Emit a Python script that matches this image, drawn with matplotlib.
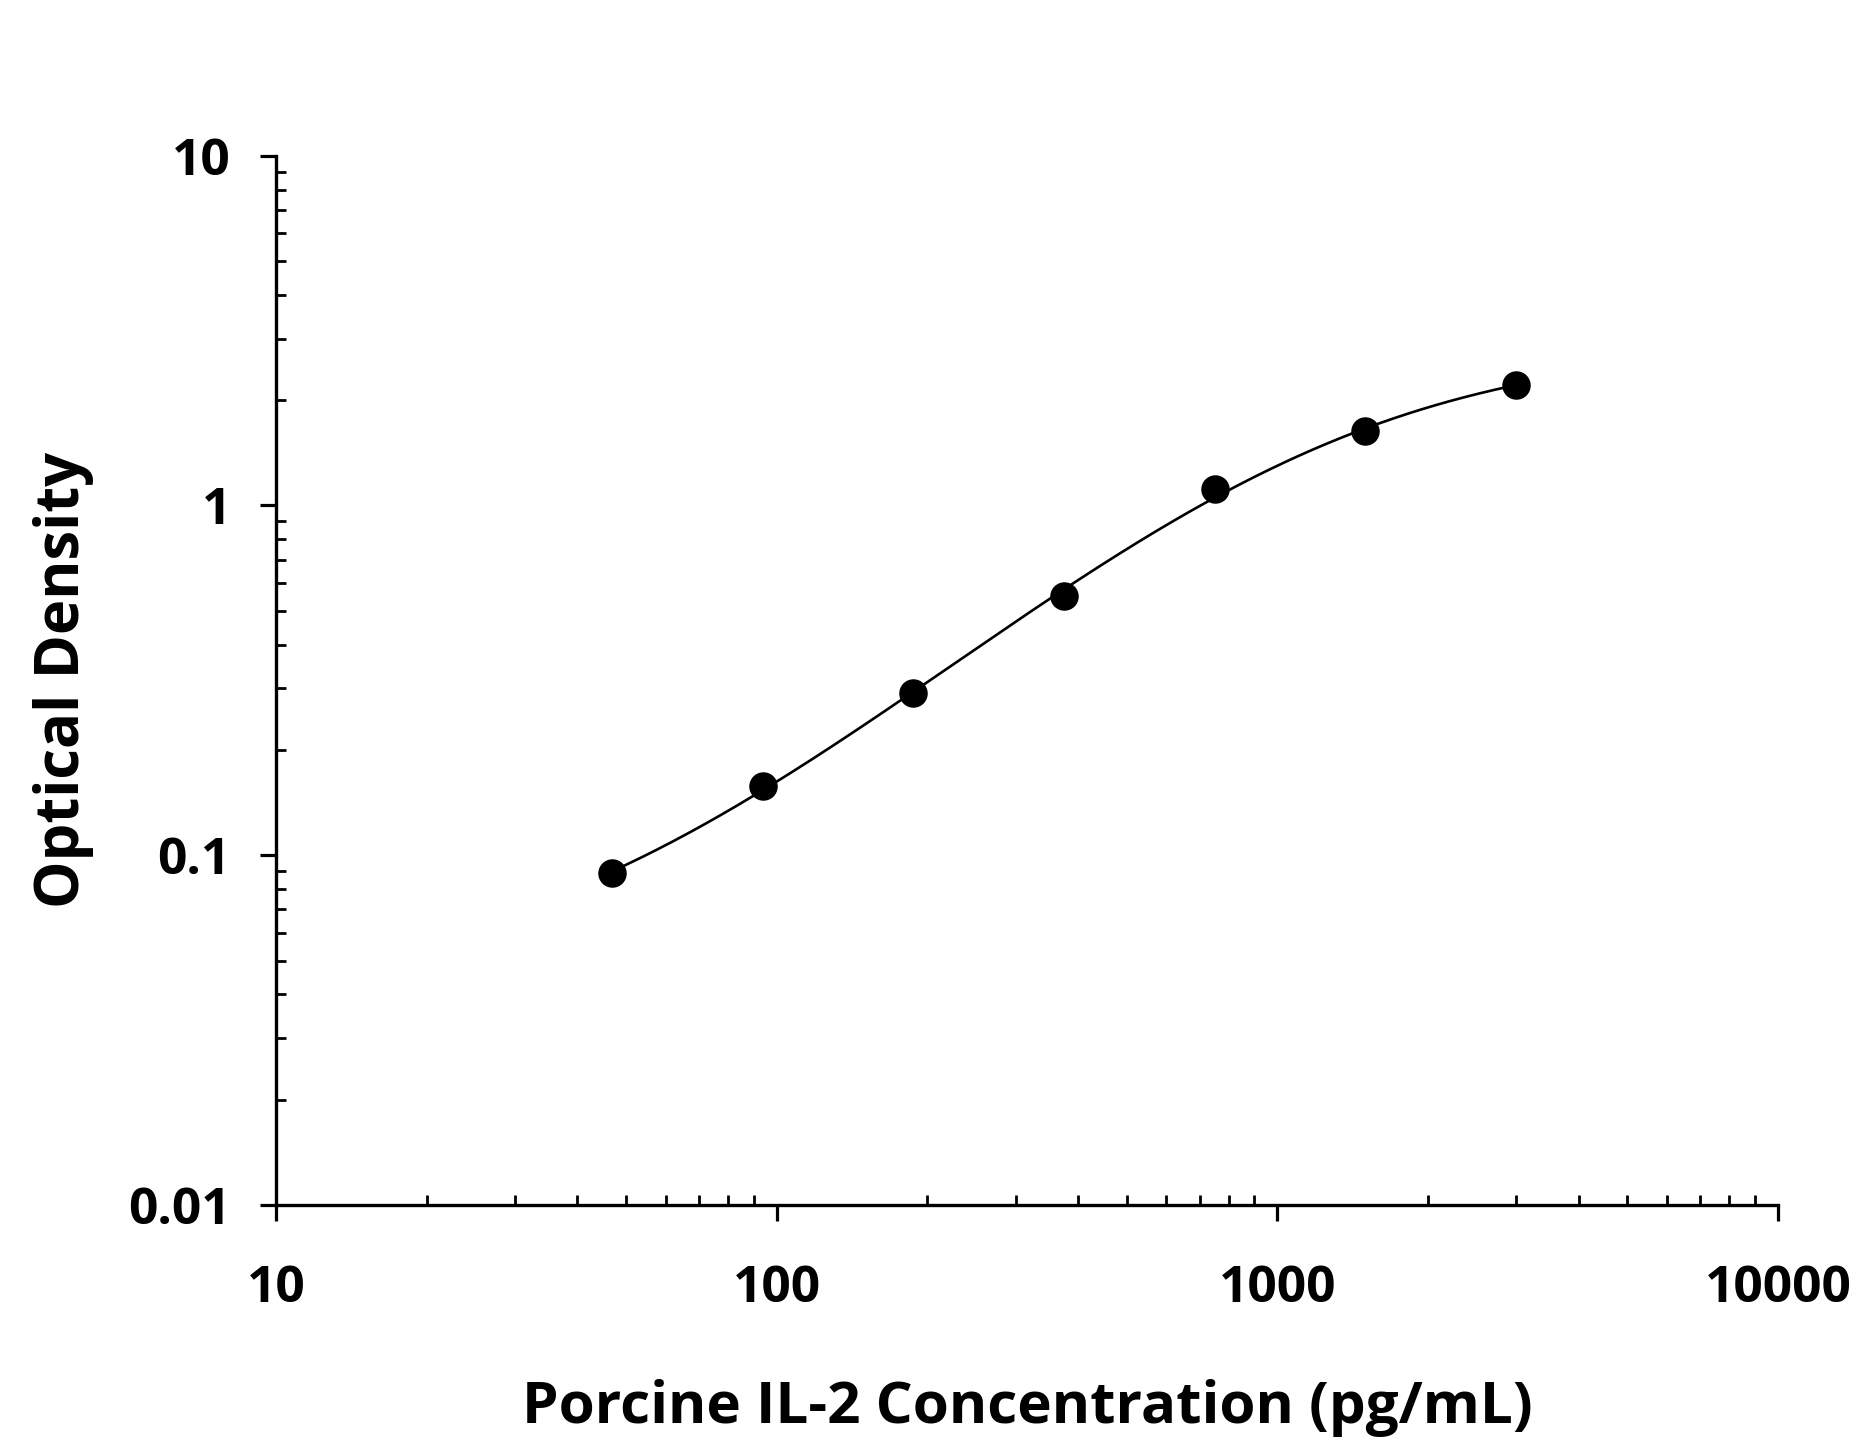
import numpy as np
import matplotlib
matplotlib.use("Agg")
import matplotlib.pyplot as plt
from matplotlib.ticker import LogLocator, FixedLocator, FixedFormatter, NullFormatter

# ---- data ----
conc = [46.875, 93.75, 187.5, 375, 750, 1500, 3000]          # pg/mL
od = [0.089, 0.158, 0.291, 0.551, 1.114, 1.636, 2.213]        # optical density
x_ticks = [10, 100, 1000, 10000]
x_ticklabels = ["10", "100", "1000", "10000"]
y_ticks = [0.01, 0.1, 1, 10]
y_ticklabels = ["0.01", "0.1", "1", "10"]
x_label = "Porcine IL-2 Concentration (pg/mL)"
y_label = "Optical Density"

# ---- 4-parameter logistic fit of the data (grid over slope / EC50, linear LSQ for asymptotes) ----
xd = np.asarray(conc, float)
yd = np.asarray(od, float)
w = 1.0 / yd
best = None
for B in np.linspace(0.5, 2.5, 161):
    for lc in np.linspace(1.5, 4.5, 241):
        g = 1.0 / (1.0 + (xd / 10 ** lc) ** B)
        M = np.column_stack([g, 1 - g]) * w[:, None]
        coef, *_ = np.linalg.lstsq(M, yd * w, rcond=None)
        r = np.sum((M @ coef - yd * w) ** 2)
        if best is None or r < best[0]:
            best = (r, B, lc, coef)
_, B, lc, (A, D) = best
xc = np.logspace(np.log10(xd.min()), np.log10(xd.max()), 400)
gc = 1.0 / (1.0 + (xc / 10 ** lc) ** B)
yc = A * gc + D * (1 - gc)

# ---- figure ----
W, H, DPI = 1859, 1445, 100
plt.rcParams["font.family"] = ["Open Sans", "DejaVu Sans"]
plt.rcParams["font.weight"] = "bold"
fig = plt.figure(figsize=(W / DPI, H / DPI), dpi=DPI)
L, R, T, Bt = 276, 1778, 155.7, 1205
ax = fig.add_axes([L / W, 1 - Bt / H, (R - L) / W, (Bt - T) / H])

ax.plot(xc, yc, color="black", lw=1.9, zorder=2)
ax.plot(conc, od, "o", color="black", ms=19.5, mec="black", zorder=3, clip_on=False)

ax.set_xscale("log")
ax.set_yscale("log")
ax.set_xlim(10, 10000)
ax.set_ylim(0.01, 10)

for s in ["top", "right"]:
    ax.spines[s].set_visible(False)
for s in ["left", "bottom"]:
    ax.spines[s].set_linewidth(2.4)

ax.xaxis.set_major_locator(FixedLocator(x_ticks))
ax.xaxis.set_major_formatter(FixedFormatter(x_ticklabels))
ax.yaxis.set_major_locator(FixedLocator(y_ticks))
ax.yaxis.set_major_formatter(FixedFormatter(y_ticklabels))
ax.xaxis.set_minor_locator(LogLocator(base=10, subs=np.arange(2, 10), numticks=20))
ax.yaxis.set_minor_locator(LogLocator(base=10, subs=np.arange(2, 10), numticks=20))
ax.xaxis.set_minor_formatter(NullFormatter())
ax.yaxis.set_minor_formatter(NullFormatter())

ax.tick_params(which="major", direction="out", length=11.5, width=2.3, labelsize=37)
ax.tick_params(which="minor", direction="in", length=7.2, width=2.0)
ax.tick_params(axis="x", which="major", pad=31)
ax.tick_params(axis="y", which="major", pad=21)
for lab in ax.get_xticklabels() + ax.get_yticklabels():
    lab.set_fontweight("bold")

fig.text(1027 / W, 1 - 1423 / H, x_label, ha="center", va="baseline",
         fontsize=42, fontweight="bold")
fig.text(79 / W, 1 - 680 / H, y_label, ha="center", va="baseline",
         rotation=90, rotation_mode="anchor", fontsize=43, fontweight="bold")

fig.savefig("out.png", dpi=DPI, facecolor="white")
